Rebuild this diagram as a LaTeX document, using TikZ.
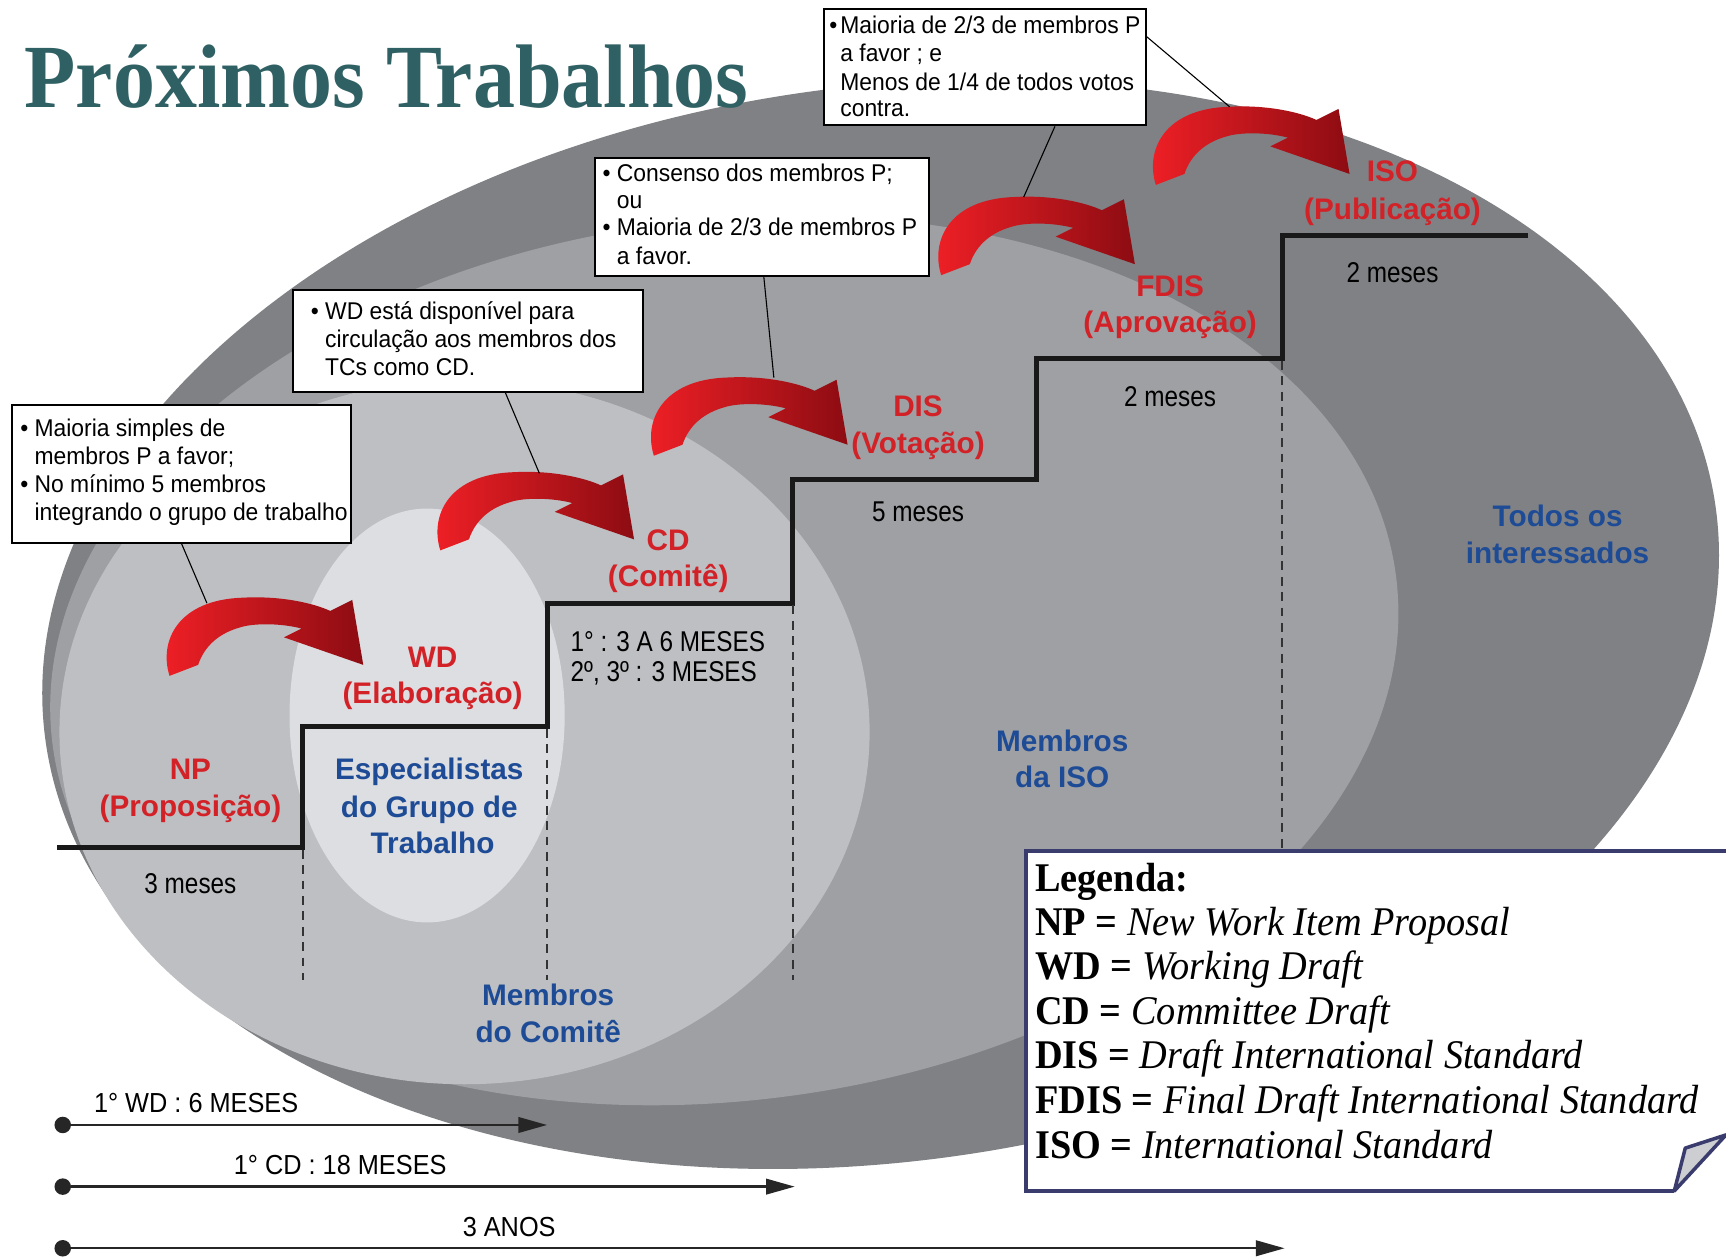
\documentclass[tikz,border=0pt]{standalone}
\usepackage{fontspec}
\setmainfont{Liberation Serif}
\newfontfamily\legfont[FakeStretch=0.94]{Liberation Serif}
\newfontfamily\titlefont[FakeStretch=0.93]{Liberation Serif}
\newfontfamily\lsans{Liberation Sans}
\newfontfamily\lsansbox[FakeStretch=0.945]{Liberation Sans}
\newfontfamily\lsansmes[FakeStretch=0.85]{Liberation Sans}
\newfontfamily\lsanstl[FakeStretch=0.92]{Liberation Sans}
\usetikzlibrary{arrows.meta,calc}
\definecolor{titlecol}{RGB}{47,96,100}
\definecolor{ga}{RGB}{127,129,132}
\definecolor{gb}{RGB}{158,160,163}
\definecolor{gc}{RGB}{189,191,194}
\definecolor{gd}{RGB}{221,222,225}
\definecolor{lblred}{RGB}{210,34,40}
\definecolor{lblblue}{RGB}{30,75,150}
\definecolor{arrA}{RGB}{240,32,38}
\definecolor{arrM}{RGB}{224,26,33}
\definecolor{arrB}{RGB}{140,12,18}
\definecolor{legborder}{RGB}{58,60,110}
\definecolor{curlcol}{RGB}{205,206,210}
\tikzset{
  redarrow/.pic={
    \path[left color=arrA, middle color=arrM, right color=arrB]
      (4,72) .. controls (-6,40) and (12,3) .. (70,1)
      .. controls (105,-1) and (135,6) .. (150,13)
      -- (170,3) -- (180,62) -- (108,37) -- (124,29)
      .. controls (105,24) and (80,24) .. (68,28)
      .. controls (50,33) and (36,44) .. (30,62) -- cycle;
  }
}
\begin{document}
\begin{tikzpicture}[x=0.5pt,y=-0.5pt,
  txt/.style={inner sep=0pt, anchor=base},
  txtl/.style={inner sep=0pt, anchor=base west},
  redlab/.style={txt, font=\lsans\bfseries\fontsize{13.5}{16}\selectfont, text=lblred},
  bluelab/.style={txt, font=\lsans\bfseries\fontsize{13.5}{16}\selectfont, text=lblblue},
  meslab/.style={txt, font=\lsansmes\fontsize{13}{15}\selectfont, text=black},
  meslabl/.style={txtl, font=\lsansmes\fontsize{13}{15}\selectfont, text=black},
  boxtxt/.style={txtl, font=\lsansbox\fontsize{11}{13}\selectfont},
  infobox/.style={draw=black, line width=0.9pt, fill=white, inner sep=0pt, anchor=north west},
  leader/.style={draw=black, line width=0.5pt},
  stair/.style={line width=2.3pt, draw=black!90},
  dashv/.style={draw=black!80, line width=0.9pt, dash pattern=on 4pt off 3pt},
  legtxt/.style={txtl, font=\legfont\fontsize{18.5}{20}\selectfont},
  tllab/.style={txtl, font=\lsanstl\fontsize{12.5}{15}\selectfont},
  tldot/.style={circle, fill=black!85, inner sep=0pt, minimum size=7.5pt},
  tlarrow/.style={draw=black!85, line width=1.1pt, -{Triangle[length=13pt,width=7pt]}}
]
\useasboundingbox (0,0) rectangle (1568,1143);
\fill[white] (0,0) rectangle (1568,1143);

% nested ovals
\fill[ga, rotate around={8:(800,567)}] (800,567) ellipse [x radius=383pt, y radius=244pt];
\fill[gb, rotate around={7:(658,600)}] (658,600) ellipse [x radius=307.5pt, y radius=200pt];
\fill[gc] (422,665) ellipse [x radius=184pt, y radius=160pt];
\fill[gd] (388,650) ellipse [x radius=62.5pt, y radius=94pt];

% staircase
\draw[stair] (52,770) -- (275,770) -- (275,660) -- (497,660) -- (497,548) -- (720,548)
  -- (720,436) -- (942,436) -- (942,326) -- (1165,326) -- (1165,214) -- (1388,214);
\draw[dashv] (275,772) -- (275,890);
\draw[dashv] (497,662) -- (497,890);
\draw[dashv] (720,550) -- (720,890);
\draw[dashv] (1165,328) -- (1165,772);

% red curved arrows
\pic at (150,542) {redarrow};
\pic at (396,428) {redarrow};
\pic at (590,342) {redarrow};
\pic at (851,178) {redarrow};
\pic at (1046,96) {redarrow};

% stage labels
\node[redlab] (np1) at (173,708) {NP};
\node[redlab] (np2) at (173,742) {(Proposição)};
\node[redlab] (wd1) at (393,606) {WD};
\node[redlab] (wd2) at (393,639) {(Elaboração)};
\node[redlab] (cd1) at (607,500) {CD};
\node[redlab] (cd2) at (607,533) {(Comitê)};
\node[redlab] (dis1) at (834,378) {DIS};
\node[redlab] (dis2) at (834,412) {(Votação)};
\node[redlab] (fdis1) at (1063,269) {FDIS};
\node[redlab] (fdis2) at (1063,302) {(Aprovação)};
\node[redlab] (iso1) at (1265,165) {ISO};
\node[redlab] (iso2) at (1265,199) {(Publicação)};

% group labels
\node[bluelab] (esp1) at (390,708) {Especialistas};
\node[bluelab] (esp2) at (390,743) {do Grupo de};
\node[bluelab] (esp3) at (393,775) {Trabalho};
\node[bluelab] (mc1) at (498,913) {Membros};
\node[bluelab] (mc2) at (498,947) {do Comitê};
\node[bluelab] (mi1) at (965,683) {Membros};
\node[bluelab] (mi2) at (965,715) {da ISO};
\node[bluelab] (ti1) at (1415,478) {Todos os};
\node[bluelab] (ti2) at (1415,512) {interessados};

% durations
\node[meslab] (m1) at (173,812) {3 meses};
\node[meslabl] (m2a) at (518,592) {1° : 3 A 6 MESES};
\node[meslabl] (m2b) at (518,619) {2º, 3º : 3 MESES};
\node[meslab] (m3) at (834,474) {5 meses};
\node[meslab] (m4) at (1063,369) {2 meses};
\node[meslab] (m5) at (1265,257) {2 meses};

% info boxes
\node[infobox, minimum width=154pt, minimum height=62.5pt] (box1) at (10,367) {};
\node[boxtxt] (b1a) at (18,397) {•};
\node[boxtxt] (b1b) at (31,397) {Maioria simples de};
\node[boxtxt] (b1c) at (31,422) {membros P a favor;};
\node[boxtxt] (b1d) at (18,447) {•};
\node[boxtxt] (b1e) at (31,447) {No mínimo 5 membros};
\node[boxtxt] (b1f) at (31,473) {integrando o grupo de trabalho};

\node[infobox, minimum width=159pt, minimum height=46pt] (box2) at (265,263) {};
\node[boxtxt] (b2a) at (282,290) {•};
\node[boxtxt] (b2b) at (295,290) {WD está disponível para};
\node[boxtxt] (b2c) at (295,316) {circulação aos membros dos};
\node[boxtxt] (b2d) at (295,341) {TCs como CD.};

\node[infobox, minimum width=151.5pt, minimum height=53.5pt] (box3) at (540,143) {};
\node[boxtxt] (b3a) at (547,165) {•};
\node[boxtxt] (b3b) at (560,165) {Consenso dos membros P;};
\node[boxtxt] (b3c) at (560,189) {ou};
\node[boxtxt] (b3d) at (547,214) {•};
\node[boxtxt] (b3e) at (560,214) {Maioria de 2/3 de membros P};
\node[boxtxt] (b3f) at (560,240) {a favor.};

\node[infobox, minimum width=146pt, minimum height=53pt] (box4) at (748,7) {};
\node[boxtxt] (b4a) at (753,30) {•};
\node[boxtxt] (b4b) at (763,30) {Maioria de 2/3 de membros P};
\node[boxtxt] (b4c) at (763,56) {a favor ; e};
\node[boxtxt] (b4d) at (763,82) {Menos de 1/4 de todos votos};
\node[boxtxt] (b4e) at (763,106) {contra.};

% leader lines
\coordinate (c1) at (188,548);
\coordinate (c2) at (490,430);
\coordinate (c3) at (703,343);
\coordinate (c4) at (930,179);
\coordinate (c5) at (1117,97);
\draw[leader] (box1.south) -- (c1);
\draw[leader] ($(box2.south west)!0.607!(box2.south east)$) -- (c2);
\draw[leader] ($(box3.south west)!0.505!(box3.south east)$) -- (c3);
\draw[leader] ($(box4.south west)!0.716!(box4.south east)$) -- (c4);
\draw[leader] ($(box4.north east)!0.245!(box4.south east)$) -- (c5);

% legend
\fill[white] (932,773) -- (1570,773) -- (1570,1031) -- (1521,1082) -- (932,1082) -- cycle;
\draw[legborder, line width=1.6pt] (1570,773) -- (932,773) -- (932,1082) -- (1521,1082);
\filldraw[fill=curlcol, draw=legborder, line width=1.6pt, line join=round]
  (1521,1082) -- (1531,1043) -- (1568,1031) -- cycle;
\node[legtxt] (leg0) at (940,810) {\textbf{Legenda:}};
\node[legtxt] (leg1) at (940,850) {\textbf{NP =} \textit{New Work Item Proposal}};
\node[legtxt] (leg2) at (940,890) {\textbf{WD =} \textit{Working Draft}};
\node[legtxt] (leg3) at (940,931) {\textbf{CD =} \textit{Committee Draft}};
\node[legtxt] (leg4) at (940,971) {\textbf{DIS =} \textit{Draft International Standard}};
\node[legtxt] (leg5) at (940,1012) {\textbf{FDIS =} \textit{Final Draft International Standard}};
\node[legtxt] (leg6) at (940,1052) {\textbf{ISO =} \textit{International Standard}};

% timeline
\node[tldot] (t1) at (57,1022) {};
\node[tldot] (t2) at (57,1078) {};
\node[tldot] (t3) at (57,1134) {};
\coordinate (t1e) at (497,1022);
\coordinate (t2e) at (722,1078);
\coordinate (t3e) at (1167,1134);
\draw[tlarrow] (t1) -- (t1e);
\draw[tlarrow] (t2) -- (t2e);
\draw[tlarrow] (t3) -- (t3e);
\node[tllab] (tl1) at (85,1011) {1° WD : 6 MESES};
\node[tllab] (tl2) at (212,1067) {1° CD : 18 MESES};
\node[tllab] (tl3) at (420,1123) {3 ANOS};

% title
\node[txtl, font=\titlefont\bfseries\fontsize{41}{44}\selectfont, text=titlecol] (title) at (22,98) {Próximos Trabalhos};
\end{tikzpicture}
\end{document}
